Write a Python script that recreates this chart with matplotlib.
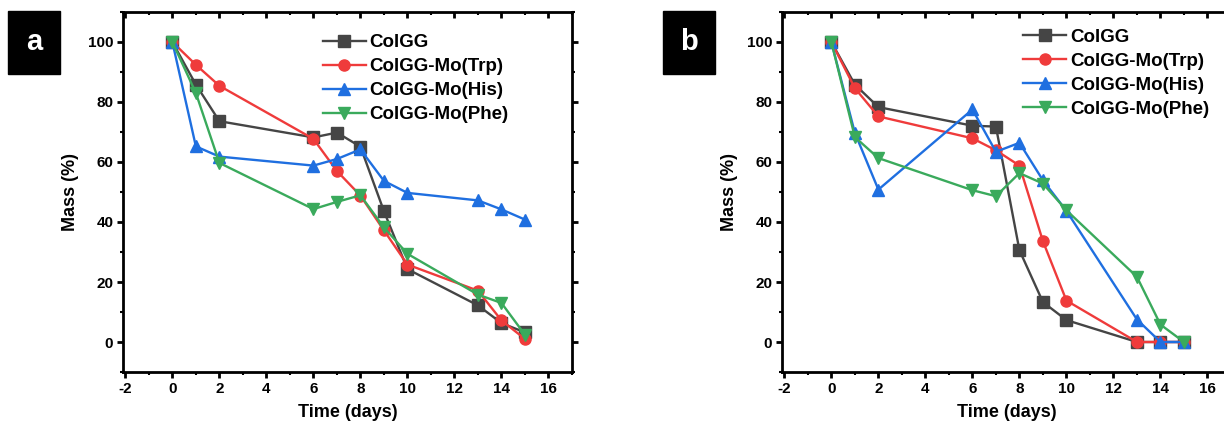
import numpy as np
import matplotlib
matplotlib.use('Agg')
from matplotlib import pyplot as plt
from matplotlib.ticker import MultipleLocator

plt.rcParams['font.family'] = ['Liberation Sans', 'DejaVu Sans']
plt.rcParams['font.weight'] = 'bold'
plt.rcParams['axes.unicode_minus'] = False

days = [0, 1, 2, 6, 7, 8, 9, 10, 13, 14, 15]
names = ['ColGG', 'ColGG-Mo(Trp)', 'ColGG-Mo(His)', 'ColGG-Mo(Phe)']

# panel a
a_colgg = [100, 85.8, 73.6, 68.2, 69.8, 65.1, 43.6, 24.3, 12.2, 6.3, 3.2]
a_trp = [100, 92.4, 85.4, 67.7, 57.0, 48.8, 37.2, 25.8, 17.1, 7.2, 1.0]
a_his = [100, 65.2, 61.8, 58.8, 61.0, 64.2, 53.7, 49.7, 47.2, 44.2, 40.8]
a_phe = [100, 83.0, 59.7, 44.3, 46.7, 48.9, 38.2, 29.4, 15.8, 13.0, 2.4]

# panel b
b_colgg = [100, 85.8, 78.3, 72.1, 71.8, 30.6, 13.3, 7.3, 0, 0, 0]
b_trp = [100, 84.6, 75.2, 67.9, 63.9, 58.8, 33.6, 13.8, 0, 0, 0]
b_his = [100, 69.7, 50.8, 77.5, 63.4, 66.4, 53.9, 43.7, 7.5, 0, 0]
b_phe = [100, 68.3, 61.3, 50.6, 48.6, 56.3, 52.8, 43.9, 21.7, 5.8, 0]

colors = ['#454545', '#ef3b3b', '#1f6fe0', '#3aaa5c']
markers = ['s', 'o', '^', 'v']

fig = plt.figure(figsize=(12.24, 4.30), dpi=100)
ax_a = fig.add_axes([123/1224, 58/430, 449/1224, 360/430])
ax_b = fig.add_axes([782/1224, 58/430, 449/1224, 360/430])

panels = [(ax_a, [a_colgg, a_trp, a_his, a_phe], 'a', 7, 0.445, 0.938),
          (ax_b, [b_colgg, b_trp, b_his, b_phe], 'b', 662, 0.537, 0.953)]

for ax, series, letter, bx, lx, ly in panels:
    for vals, name, c, m in zip(series, names, colors, markers):
        ax.plot(days, vals, color=c, marker=m, markersize=8, linewidth=1.7,
                label=name)
    ax.set_xlim(-2.1, 17)
    ax.set_ylim(-10, 110)
    ax.xaxis.set_major_locator(MultipleLocator(2))
    ax.xaxis.set_minor_locator(MultipleLocator(1))
    ax.yaxis.set_minor_locator(MultipleLocator(10))
    ax.set_yticks([0, 20, 40, 60, 80, 100])
    ax.tick_params(which='major', length=4, width=2, labelsize=11, pad=3)
    ax.tick_params(which='minor', length=2, width=1.5)
    ax.tick_params(which='both', top=True, right=True, direction='out')
    for s in ax.spines.values():
        s.set_linewidth(2)
    ax.set_xlabel('Time (days)', fontsize=13, fontweight='bold', labelpad=6)
    ax.set_ylabel('Mass (%)', fontsize=13, fontweight='bold', labelpad=6)
    for lbl in ax.get_xticklabels() + ax.get_yticklabels():
        lbl.set_fontweight('bold')
    ax.legend(loc='upper left', bbox_to_anchor=(lx, ly), frameon=False,
              fontsize=13.5, handlelength=2.3, handletextpad=0.2,
              labelspacing=0.36, borderpad=0, borderaxespad=0)
    fig.text((bx + 27)/1224, 1 - 42/430, letter, color='white', fontsize=21,
             fontweight='bold', ha='center', va='center',
             bbox=dict(boxstyle='square,pad=0.6', fc='black', ec='black'))

# top/right ticks point inward as in the original
for ax in (ax_a, ax_b):
    for t in ax.xaxis.get_major_ticks() + ax.xaxis.get_minor_ticks():
        t.tick2line.set_marker(3)
    for t in ax.yaxis.get_major_ticks() + ax.yaxis.get_minor_ticks():
        t.tick2line.set_marker(1)

fig.savefig('out.png', dpi=100)
